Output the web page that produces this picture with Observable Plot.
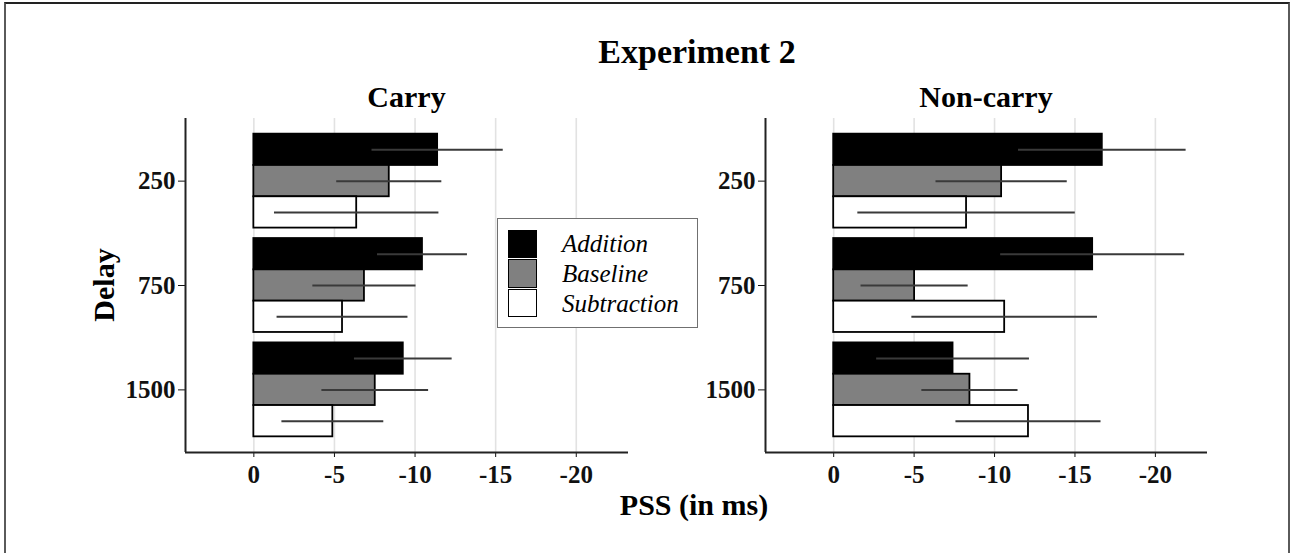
<!DOCTYPE html>
<html><head><meta charset="utf-8">
<script src="https://cdn.jsdelivr.net/npm/d3@7"></script>
<script src="https://cdn.jsdelivr.net/npm/@observablehq/plot@0.6"></script>
<style>
html,body{margin:0;padding:0;background:#fff;}
#wrap{position:relative;width:1293px;height:553px;overflow:hidden;background:#fff;font-family:"Liberation Serif","Times New Roman",serif;}
#border{position:absolute;left:4px;top:2px;width:1286px;height:600px;border:2px solid #5a5a5a;border-top-color:#222;box-sizing:border-box;}
.t{position:absolute;font-weight:bold;color:#000;line-height:1;white-space:nowrap;transform:translateX(-50%);}
.panel{position:absolute;top:0;}
#legend{position:absolute;left:497px;top:218px;width:201px;height:110px;border:1px solid #707070;box-sizing:border-box;background:#fff;padding:10px 0 0 10px;z-index:5;}
.row{display:flex;align-items:center;height:29.7px;}
.sw{width:29px;height:28.5px;box-sizing:border-box;border:1.8px solid #000;}
.lab{margin-left:25px;font-style:italic;font-size:25px;line-height:1;color:#000;}
</style></head><body><div id="wrap"><div id="border"></div></div>
<script>
// ---- data (PSS in ms) ----
const delays = ["250", "750", "1500"];
const conditions = ["Addition", "Baseline", "Subtraction"];
const conditionFills = ["#000000", "#808080", "#ffffff"];
const panels = ["Carry", "Non-carry"];

// Carry: means and error half-widths per delay (250, 750, 1500)
const carryAddition = [-11.4, -10.46, -9.27];
const carryBaseline = [-8.4, -6.86, -7.53];
const carrySubtraction = [-6.38, -5.5, -4.9];
const carryAdditionErr = [4.07, 2.79, 3.03];
const carryBaselineErr = [3.26, 3.2, 3.31];
const carrySubtractionErr = [5.1, 4.06, 3.16];

// Non-carry
const noncarryAddition = [-16.7, -16.1, -7.42];
const noncarryBaseline = [-10.44, -5.03, -8.47];
const noncarrySubtraction = [-8.26, -10.63, -12.11];
const noncarryAdditionErr = [5.21, 5.72, 4.75];
const noncarryBaselineErr = [4.08, 3.33, 2.99];
const noncarrySubtractionErr = [6.76, 5.77, 4.51];

const xTicks = [0, -5, -10, -15, -20];
const xTickLabels = ["0", "-5", "-10", "-15", "-20"];
const xDomain = [4.24, -23.24];
const yDomain = [3.6, 0.4];

function buildRows(means, errs) {
  const rows = [];
  delays.forEach((dl, g) => {
    conditions.forEach((cond, c) => {
      const y1 = (g + 1) - 0.45 + c * 0.3;
      rows.push({delay: dl, condition: cond, mean: means[c][g], se: errs[c][g], y1, y2: y1 + 0.3, yc: y1 + 0.15});
    });
  });
  return rows;
}

const carryRows = buildRows([carryAddition, carryBaseline, carrySubtraction],
                            [carryAdditionErr, carryBaselineErr, carrySubtractionErr]);
const noncarryRows = buildRows([noncarryAddition, noncarryBaseline, noncarrySubtraction],
                               [noncarryAdditionErr, noncarryBaselineErr, noncarrySubtractionErr]);

function panel(rows, width, ml, mr) {
  return Plot.plot({
    width, height: 500,
    marginLeft: ml, marginRight: mr, marginTop: 118, marginBottom: 48,
    style: {fontFamily: "'Liberation Serif', 'Times New Roman', serif", fontSize: "25px", fontWeight: "bold", color: "#111", background: "transparent", overflow: "visible"},
    x: {domain: xDomain, ticks: xTicks, tickFormat: d => xTickLabels[xTicks.indexOf(d)], tickSize: 5, tickPadding: 8, label: null},
    y: {domain: yDomain, ticks: [1, 2, 3], tickFormat: d => delays[d - 1], tickSize: 7, tickPadding: 3, label: null},
    color: {domain: conditions, range: conditionFills},
    marks: [
      Plot.ruleX(xTicks, {stroke: "#e2e2e2", strokeWidth: 1.6}),
      Plot.rect(rows, {x1: d => 0, x2: "mean", y1: "y1", y2: "y2", fill: "condition", stroke: "#000", strokeWidth: 1.8}),
      Plot.ruleY(rows, {y: "yc", x1: d => d.mean - d.se, x2: d => d.mean + d.se, stroke: "#3a3a3a", strokeWidth: 2}),
      Plot.ruleX([xDomain[0]], {stroke: "#222", strokeWidth: 2}),
      Plot.ruleY([yDomain[0]], {stroke: "#222", strokeWidth: 2})
    ]
  });
}

const wrap = document.getElementById("wrap");
const p1 = panel(carryRows, 640, 185, 12);
p1.classList.add("panel"); p1.style.left = "0px"; p1.style.position = "absolute"; p1.style.top = "0px"; p1.style.maxWidth = "none";
wrap.appendChild(p1);
const p2 = panel(noncarryRows, 653, 125, 86);
p2.classList.add("panel"); p2.style.left = "640px"; p2.style.position = "absolute"; p2.style.top = "0px"; p2.style.maxWidth = "none";
wrap.appendChild(p2);

function addText(txt, x, y, size, extra) {
  const d = document.createElement("div");
  d.className = "t";
  d.textContent = txt;
  d.style.left = x + "px"; d.style.top = y + "px"; d.style.fontSize = size + "px";
  if (extra) d.style.transform = extra;
  wrap.appendChild(d);
}
addText("Experiment 2", 697, 35, 34);
addText(panels[0], 406.5, 82, 30);
addText(panels[1], 986, 82, 30);
addText("PSS (in ms)", 694, 490, 30);
addText("Delay", 104, 285, 30, "translate(-50%,-50%) rotate(-90deg)");

// legend
const lg = document.createElement("div");
lg.id = "legend";
conditions.forEach((c, i) => {
  const r = document.createElement("div"); r.className = "row";
  const s = document.createElement("div"); s.className = "sw"; s.style.background = conditionFills[i];
  const l = document.createElement("div"); l.className = "lab"; l.textContent = c;
  r.appendChild(s); r.appendChild(l); lg.appendChild(r);
});
wrap.appendChild(lg);
</script>
</body></html>
